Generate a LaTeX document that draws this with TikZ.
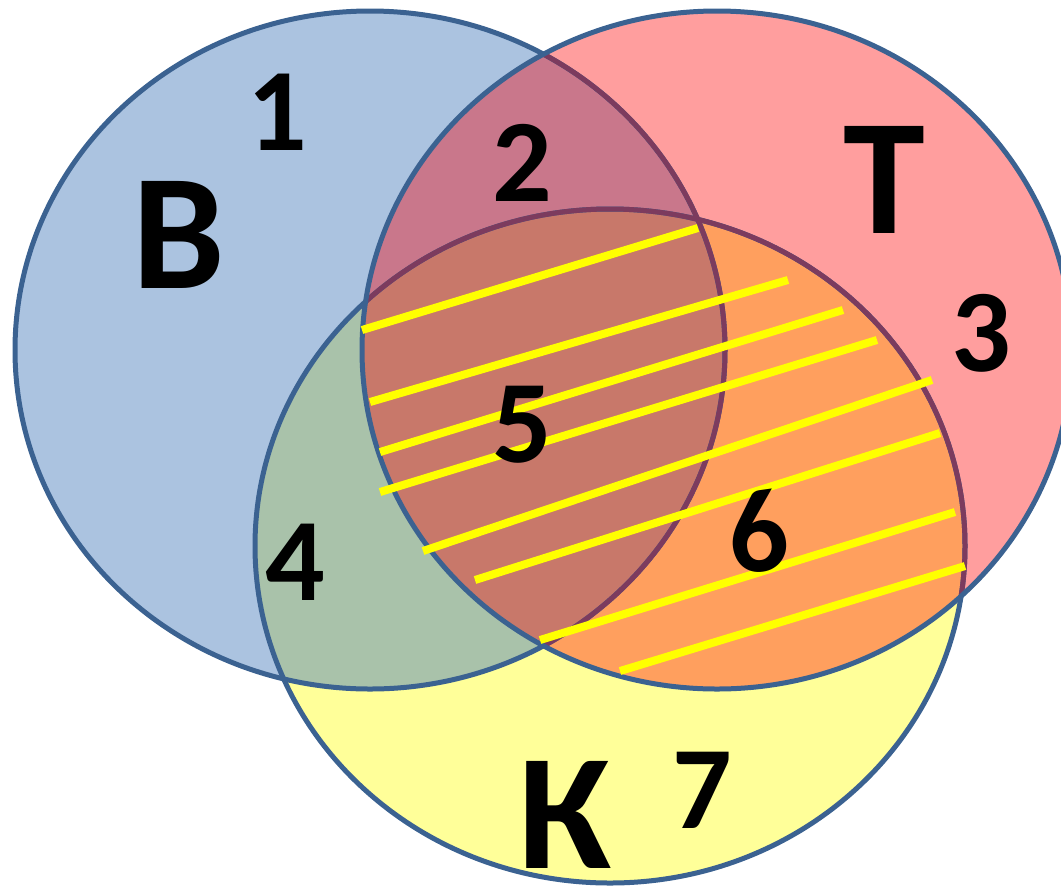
\documentclass[tikz,border=0pt]{standalone}
\usepackage{fontspec}
\setmainfont{Carlito}
\usetikzlibrary{positioning}
\definecolor{cB}{HTML}{ABC3E0}
\definecolor{cT}{HTML}{FF9E9E}
\definecolor{cK}{HTML}{FFFF99}
\definecolor{cBT}{HTML}{C9778B}
\definecolor{cBK}{HTML}{A9C2AA}
\definecolor{cTK}{HTML}{FF9F5E}
\definecolor{cBTK}{HTML}{C8786A}
\definecolor{cRim}{HTML}{3B6291}
\definecolor{cRimT}{HTML}{7C3B5E}
\definecolor{cHatch}{HTML}{FFFF00}
\tikzset{
    rim/.style={draw=cRim, line width=0.1cm},
    rimT/.style={draw=cRimT, line width=0.1cm},
    hatch/.style={draw=cHatch, line width=0.16cm},
    bigletter/.style={font=\bfseries\fontsize{94}{94}\selectfont, inner sep=0pt},
    region/.style={font=\bfseries\fontsize{67}{67}\selectfont, inner sep=0pt}
}

\begin{document}
\begin{tikzpicture}[x=0.02cm, y=-0.02cm]
    \def \Rx {355}
    \def \Ry {339}
    \useasboundingbox (0,0) rectangle (1061,890);
    \coordinate (B) at (370,350);
    \coordinate (T) at (717,350);
    \coordinate (K) at (610,546);
    % plain fills
    \fill[cB] (B) ellipse [x radius=\Rx, y radius=\Ry];
    \fill[cT] (T) ellipse [x radius=\Rx, y radius=\Ry];
    \fill[cK] (K) ellipse [x radius=\Rx, y radius=337];
    % overlaps
    \begin{scope}
    \clip (B) ellipse [x radius=\Rx, y radius=\Ry];
    \fill[cBT] (T) ellipse [x radius=\Rx, y radius=\Ry];
    \fill[cBK] (K) ellipse [x radius=\Rx, y radius=337];
    \end{scope}
    \begin{scope}
    \clip (T) ellipse [x radius=\Rx, y radius=\Ry];
    \fill[cTK] (K) ellipse [x radius=\Rx, y radius=337];
    \clip (K) ellipse [x radius=\Rx, y radius=337];
    \fill[cBTK] (B) ellipse [x radius=\Rx, y radius=\Ry];
    \end{scope}
    % outlines
    \draw[rim] (B) ellipse [x radius=\Rx, y radius=\Ry];
    \draw[rim] (K) ellipse [x radius=\Rx, y radius=337];
    \begin{scope}
    \clip (T) ellipse [x radius=\Rx, y radius=\Ry];
    \draw[rimT] (B) ellipse [x radius=\Rx, y radius=\Ry];
    \draw[rimT] (K) ellipse [x radius=\Rx, y radius=337];
    \end{scope}
    \draw[rim] (T) ellipse [x radius=\Rx, y radius=\Ry];
    % hatching of T and K
    \foreach \xa/\ya/\xb/\yb in {362/330/698/228, 370/402/788/280, 380/452/843/310,
        380/492/877/340, 423/551/932/380, 475/580/940/433, 540/640/955/512, 620/671/965/566}
        \draw[hatch] (\xa,\ya) -- (\xb,\yb);
    % labels
    \node[bigletter] (lB) at (179,235) {В};
    \node[bigletter] (lT) at (884,180) {Т};
    \node[bigletter] (lK) at (565,815) {К};
    \node[region] (r1) at (277,112) {1};
    \node[region] (r2) at (522,163) {2};
    \node[region] (r3) at (981,333) {3};
    \node[region] (r4) at (295,562) {4};
    \node[region] (r5) at (522,425) {5};
    \node[region, rotate=8] (r6) at (757,532) {6};
    \node[region] (r7) at (702,790) {7};
\end{tikzpicture}
\end{document}
